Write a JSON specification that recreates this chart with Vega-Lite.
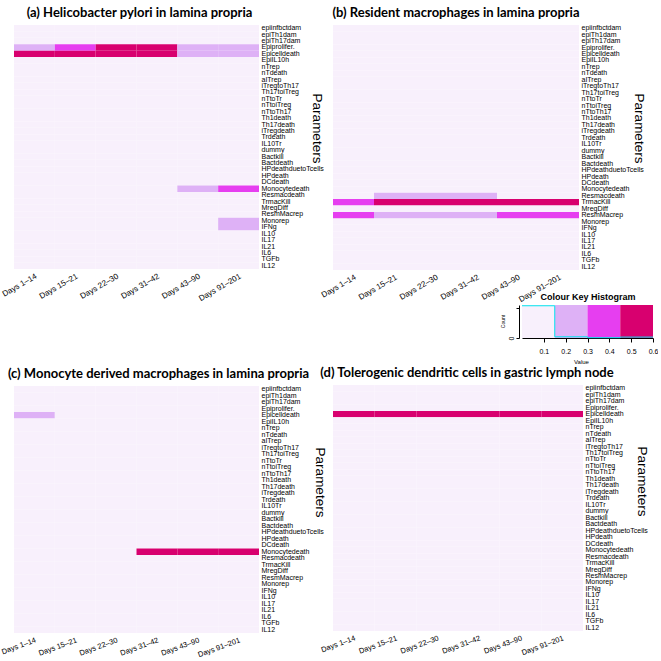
{
"$schema": "https://vega.github.io/schema/vega-lite/v6.json",
"padding": {"left": 0, "top": 6, "right": 0, "bottom": 0},
"config": {"view": {"stroke": null}, "title": {"font": "Lato", "fontWeight": "bold", "fontSize": 13, "color": "#000", "frame": "group", "anchor": "middle", "offset": 4}},
"datasets": {
"days": [{"key":"d1","day":"Days 1–14"},{"key":"d2","day":"Days 15–21"},{"key":"d3","day":"Days 22–30"},{"key":"d4","day":"Days 31–42"},{"key":"d5","day":"Days 43–90"},{"key":"d6","day":"Days 91–201"}],
"keybins": [{"lo":0,"hi":0.15,"mid":0.075},{"lo":0.15,"hi":0.3,"mid":0.225},{"lo":0.3,"hi":0.45,"mid":0.375},{"lo":0.45,"hi":0.6,"mid":0.525}],
"hist": [{"x":0,"c":212},{"x":0.15,"c":8},{"x":0.3,"c":2},{"x":0.45,"c":6},{"x":0.6,"c":6}],
"cells": [
{"g":"a","p":"epiinfbctdam","d1":0,"d2":0,"d3":0,"d4":0,"d5":0,"d6":0},
{"g":"a","p":"epiTh1dam","d1":0,"d2":0,"d3":0,"d4":0,"d5":0,"d6":0},
{"g":"a","p":"epiTh17dam","d1":0,"d2":0,"d3":0,"d4":0,"d5":0,"d6":0},
{"g":"a","p":"Epiprolifer.","d1":0.2,"d2":0.35,"d3":0.55,"d4":0.55,"d5":0.2,"d6":0.2},
{"g":"a","p":"Epicelldeath","d1":0.55,"d2":0.55,"d3":0.55,"d4":0.55,"d5":0.2,"d6":0.2},
{"g":"a","p":"EpiIL10h","d1":0,"d2":0,"d3":0,"d4":0,"d5":0,"d6":0},
{"g":"a","p":"nTrep","d1":0,"d2":0,"d3":0,"d4":0,"d5":0,"d6":0},
{"g":"a","p":"nTdeath","d1":0,"d2":0,"d3":0,"d4":0,"d5":0,"d6":0},
{"g":"a","p":"aITrep","d1":0,"d2":0,"d3":0,"d4":0,"d5":0,"d6":0},
{"g":"a","p":"iTregtoTh17","d1":0,"d2":0,"d3":0,"d4":0,"d5":0,"d6":0},
{"g":"a","p":"Th17toiTreg","d1":0,"d2":0,"d3":0,"d4":0,"d5":0,"d6":0},
{"g":"a","p":"nTtoTr","d1":0,"d2":0,"d3":0,"d4":0,"d5":0,"d6":0},
{"g":"a","p":"nTtoiTreg","d1":0,"d2":0,"d3":0,"d4":0,"d5":0,"d6":0},
{"g":"a","p":"nTtoTh17","d1":0,"d2":0,"d3":0,"d4":0,"d5":0,"d6":0},
{"g":"a","p":"Th1death","d1":0,"d2":0,"d3":0,"d4":0,"d5":0,"d6":0},
{"g":"a","p":"Th17death","d1":0,"d2":0,"d3":0,"d4":0,"d5":0,"d6":0},
{"g":"a","p":"iTregdeath","d1":0,"d2":0,"d3":0,"d4":0,"d5":0,"d6":0},
{"g":"a","p":"Trdeath","d1":0,"d2":0,"d3":0,"d4":0,"d5":0,"d6":0},
{"g":"a","p":"IL10Tr","d1":0,"d2":0,"d3":0,"d4":0,"d5":0,"d6":0},
{"g":"a","p":"dummy","d1":0,"d2":0,"d3":0,"d4":0,"d5":0,"d6":0},
{"g":"a","p":"Bactkill","d1":0,"d2":0,"d3":0,"d4":0,"d5":0,"d6":0},
{"g":"a","p":"Bactdeath","d1":0,"d2":0,"d3":0,"d4":0,"d5":0,"d6":0},
{"g":"a","p":"HPdeathduetoTcells","d1":0,"d2":0,"d3":0,"d4":0,"d5":0,"d6":0},
{"g":"a","p":"HPdeath","d1":0,"d2":0,"d3":0,"d4":0,"d5":0,"d6":0},
{"g":"a","p":"DCdeath","d1":0,"d2":0,"d3":0,"d4":0,"d5":0,"d6":0},
{"g":"a","p":"Monocytedeath","d1":0,"d2":0,"d3":0,"d4":0,"d5":0.2,"d6":0.35},
{"g":"a","p":"Resmacdeath","d1":0,"d2":0,"d3":0,"d4":0,"d5":0,"d6":0},
{"g":"a","p":"TrmacKill","d1":0,"d2":0,"d3":0,"d4":0,"d5":0,"d6":0},
{"g":"a","p":"MregDiff","d1":0,"d2":0,"d3":0,"d4":0,"d5":0,"d6":0},
{"g":"a","p":"ResmMacrep","d1":0,"d2":0,"d3":0,"d4":0,"d5":0,"d6":0},
{"g":"a","p":"Monorep","d1":0,"d2":0,"d3":0,"d4":0,"d5":0,"d6":0.2},
{"g":"a","p":"IFNg","d1":0,"d2":0,"d3":0,"d4":0,"d5":0,"d6":0.2},
{"g":"a","p":"IL10","d1":0,"d2":0,"d3":0,"d4":0,"d5":0,"d6":0},
{"g":"a","p":"IL17","d1":0,"d2":0,"d3":0,"d4":0,"d5":0,"d6":0},
{"g":"a","p":"IL21","d1":0,"d2":0,"d3":0,"d4":0,"d5":0,"d6":0},
{"g":"a","p":"IL6","d1":0,"d2":0,"d3":0,"d4":0,"d5":0,"d6":0},
{"g":"a","p":"TGFb","d1":0,"d2":0,"d3":0,"d4":0,"d5":0,"d6":0},
{"g":"a","p":"IL12","d1":0,"d2":0,"d3":0,"d4":0,"d5":0,"d6":0},
{"g":"b","p":"epiinfbctdam","d1":0,"d2":0,"d3":0,"d4":0,"d5":0,"d6":0},
{"g":"b","p":"epiTh1dam","d1":0,"d2":0,"d3":0,"d4":0,"d5":0,"d6":0},
{"g":"b","p":"epiTh17dam","d1":0,"d2":0,"d3":0,"d4":0,"d5":0,"d6":0},
{"g":"b","p":"Epiprolifer.","d1":0,"d2":0,"d3":0,"d4":0,"d5":0,"d6":0},
{"g":"b","p":"Epicelldeath","d1":0,"d2":0,"d3":0,"d4":0,"d5":0,"d6":0},
{"g":"b","p":"EpiIL10h","d1":0,"d2":0,"d3":0,"d4":0,"d5":0,"d6":0},
{"g":"b","p":"nTrep","d1":0,"d2":0,"d3":0,"d4":0,"d5":0,"d6":0},
{"g":"b","p":"nTdeath","d1":0,"d2":0,"d3":0,"d4":0,"d5":0,"d6":0},
{"g":"b","p":"aITrep","d1":0,"d2":0,"d3":0,"d4":0,"d5":0,"d6":0},
{"g":"b","p":"iTregtoTh17","d1":0,"d2":0,"d3":0,"d4":0,"d5":0,"d6":0},
{"g":"b","p":"Th17toiTreg","d1":0,"d2":0,"d3":0,"d4":0,"d5":0,"d6":0},
{"g":"b","p":"nTtoTr","d1":0,"d2":0,"d3":0,"d4":0,"d5":0,"d6":0},
{"g":"b","p":"nTtoiTreg","d1":0,"d2":0,"d3":0,"d4":0,"d5":0,"d6":0},
{"g":"b","p":"nTtoTh17","d1":0,"d2":0,"d3":0,"d4":0,"d5":0,"d6":0},
{"g":"b","p":"Th1death","d1":0,"d2":0,"d3":0,"d4":0,"d5":0,"d6":0},
{"g":"b","p":"Th17death","d1":0,"d2":0,"d3":0,"d4":0,"d5":0,"d6":0},
{"g":"b","p":"iTregdeath","d1":0,"d2":0,"d3":0,"d4":0,"d5":0,"d6":0},
{"g":"b","p":"Trdeath","d1":0,"d2":0,"d3":0,"d4":0,"d5":0,"d6":0},
{"g":"b","p":"IL10Tr","d1":0,"d2":0,"d3":0,"d4":0,"d5":0,"d6":0},
{"g":"b","p":"dummy","d1":0,"d2":0,"d3":0,"d4":0,"d5":0,"d6":0},
{"g":"b","p":"Bactkill","d1":0,"d2":0,"d3":0,"d4":0,"d5":0,"d6":0},
{"g":"b","p":"Bactdeath","d1":0,"d2":0,"d3":0,"d4":0,"d5":0,"d6":0},
{"g":"b","p":"HPdeathduetoTcells","d1":0,"d2":0,"d3":0,"d4":0,"d5":0,"d6":0},
{"g":"b","p":"HPdeath","d1":0,"d2":0,"d3":0,"d4":0,"d5":0,"d6":0},
{"g":"b","p":"DCdeath","d1":0,"d2":0,"d3":0,"d4":0,"d5":0,"d6":0},
{"g":"b","p":"Monocytedeath","d1":0,"d2":0,"d3":0,"d4":0,"d5":0,"d6":0},
{"g":"b","p":"Resmacdeath","d1":0,"d2":0.2,"d3":0.2,"d4":0.2,"d5":0,"d6":0},
{"g":"b","p":"TrmacKill","d1":0.35,"d2":0.55,"d3":0.55,"d4":0.55,"d5":0.55,"d6":0.55},
{"g":"b","p":"MregDiff","d1":0,"d2":0,"d3":0,"d4":0,"d5":0,"d6":0},
{"g":"b","p":"ResmMacrep","d1":0.35,"d2":0.2,"d3":0.2,"d4":0.2,"d5":0.35,"d6":0.35},
{"g":"b","p":"Monorep","d1":0,"d2":0,"d3":0,"d4":0,"d5":0,"d6":0},
{"g":"b","p":"IFNg","d1":0,"d2":0,"d3":0,"d4":0,"d5":0,"d6":0},
{"g":"b","p":"IL10","d1":0,"d2":0,"d3":0,"d4":0,"d5":0,"d6":0},
{"g":"b","p":"IL17","d1":0,"d2":0,"d3":0,"d4":0,"d5":0,"d6":0},
{"g":"b","p":"IL21","d1":0,"d2":0,"d3":0,"d4":0,"d5":0,"d6":0},
{"g":"b","p":"IL6","d1":0,"d2":0,"d3":0,"d4":0,"d5":0,"d6":0},
{"g":"b","p":"TGFb","d1":0,"d2":0,"d3":0,"d4":0,"d5":0,"d6":0},
{"g":"b","p":"IL12","d1":0,"d2":0,"d3":0,"d4":0,"d5":0,"d6":0},
{"g":"c","p":"epiinfbctdam","d1":0,"d2":0,"d3":0,"d4":0,"d5":0,"d6":0},
{"g":"c","p":"epiTh1dam","d1":0,"d2":0,"d3":0,"d4":0,"d5":0,"d6":0},
{"g":"c","p":"epiTh17dam","d1":0,"d2":0,"d3":0,"d4":0,"d5":0,"d6":0},
{"g":"c","p":"Epiprolifer.","d1":0,"d2":0,"d3":0,"d4":0,"d5":0,"d6":0},
{"g":"c","p":"Epicelldeath","d1":0.2,"d2":0,"d3":0,"d4":0,"d5":0,"d6":0},
{"g":"c","p":"EpiIL10h","d1":0,"d2":0,"d3":0,"d4":0,"d5":0,"d6":0},
{"g":"c","p":"nTrep","d1":0,"d2":0,"d3":0,"d4":0,"d5":0,"d6":0},
{"g":"c","p":"nTdeath","d1":0,"d2":0,"d3":0,"d4":0,"d5":0,"d6":0},
{"g":"c","p":"aITrep","d1":0,"d2":0,"d3":0,"d4":0,"d5":0,"d6":0},
{"g":"c","p":"iTregtoTh17","d1":0,"d2":0,"d3":0,"d4":0,"d5":0,"d6":0},
{"g":"c","p":"Th17toiTreg","d1":0,"d2":0,"d3":0,"d4":0,"d5":0,"d6":0},
{"g":"c","p":"nTtoTr","d1":0,"d2":0,"d3":0,"d4":0,"d5":0,"d6":0},
{"g":"c","p":"nTtoiTreg","d1":0,"d2":0,"d3":0,"d4":0,"d5":0,"d6":0},
{"g":"c","p":"nTtoTh17","d1":0,"d2":0,"d3":0,"d4":0,"d5":0,"d6":0},
{"g":"c","p":"Th1death","d1":0,"d2":0,"d3":0,"d4":0,"d5":0,"d6":0},
{"g":"c","p":"Th17death","d1":0,"d2":0,"d3":0,"d4":0,"d5":0,"d6":0},
{"g":"c","p":"iTregdeath","d1":0,"d2":0,"d3":0,"d4":0,"d5":0,"d6":0},
{"g":"c","p":"Trdeath","d1":0,"d2":0,"d3":0,"d4":0,"d5":0,"d6":0},
{"g":"c","p":"IL10Tr","d1":0,"d2":0,"d3":0,"d4":0,"d5":0,"d6":0},
{"g":"c","p":"dummy","d1":0,"d2":0,"d3":0,"d4":0,"d5":0,"d6":0},
{"g":"c","p":"Bactkill","d1":0,"d2":0,"d3":0,"d4":0,"d5":0,"d6":0},
{"g":"c","p":"Bactdeath","d1":0,"d2":0,"d3":0,"d4":0,"d5":0,"d6":0},
{"g":"c","p":"HPdeathduetoTcells","d1":0,"d2":0,"d3":0,"d4":0,"d5":0,"d6":0},
{"g":"c","p":"HPdeath","d1":0,"d2":0,"d3":0,"d4":0,"d5":0,"d6":0},
{"g":"c","p":"DCdeath","d1":0,"d2":0,"d3":0,"d4":0,"d5":0,"d6":0},
{"g":"c","p":"Monocytedeath","d1":0,"d2":0,"d3":0,"d4":0.55,"d5":0.55,"d6":0.55},
{"g":"c","p":"Resmacdeath","d1":0,"d2":0,"d3":0,"d4":0,"d5":0,"d6":0},
{"g":"c","p":"TrmacKill","d1":0,"d2":0,"d3":0,"d4":0,"d5":0,"d6":0},
{"g":"c","p":"MregDiff","d1":0,"d2":0,"d3":0,"d4":0,"d5":0,"d6":0},
{"g":"c","p":"ResmMacrep","d1":0,"d2":0,"d3":0,"d4":0,"d5":0,"d6":0},
{"g":"c","p":"Monorep","d1":0,"d2":0,"d3":0,"d4":0,"d5":0,"d6":0},
{"g":"c","p":"IFNg","d1":0,"d2":0,"d3":0,"d4":0,"d5":0,"d6":0},
{"g":"c","p":"IL10","d1":0,"d2":0,"d3":0,"d4":0,"d5":0,"d6":0},
{"g":"c","p":"IL17","d1":0,"d2":0,"d3":0,"d4":0,"d5":0,"d6":0},
{"g":"c","p":"IL21","d1":0,"d2":0,"d3":0,"d4":0,"d5":0,"d6":0},
{"g":"c","p":"IL6","d1":0,"d2":0,"d3":0,"d4":0,"d5":0,"d6":0},
{"g":"c","p":"TGFb","d1":0,"d2":0,"d3":0,"d4":0,"d5":0,"d6":0},
{"g":"c","p":"IL12","d1":0,"d2":0,"d3":0,"d4":0,"d5":0,"d6":0},
{"g":"d","p":"epiinfbctdam","d1":0,"d2":0,"d3":0,"d4":0,"d5":0,"d6":0},
{"g":"d","p":"epiTh1dam","d1":0,"d2":0,"d3":0,"d4":0,"d5":0,"d6":0},
{"g":"d","p":"epiTh17dam","d1":0,"d2":0,"d3":0,"d4":0,"d5":0,"d6":0},
{"g":"d","p":"Epiprolifer.","d1":0,"d2":0,"d3":0,"d4":0,"d5":0,"d6":0},
{"g":"d","p":"Epicelldeath","d1":0.55,"d2":0.55,"d3":0.55,"d4":0.55,"d5":0.55,"d6":0.55},
{"g":"d","p":"EpiIL10h","d1":0,"d2":0,"d3":0,"d4":0,"d5":0,"d6":0},
{"g":"d","p":"nTrep","d1":0,"d2":0,"d3":0,"d4":0,"d5":0,"d6":0},
{"g":"d","p":"nTdeath","d1":0,"d2":0,"d3":0,"d4":0,"d5":0,"d6":0},
{"g":"d","p":"aITrep","d1":0,"d2":0,"d3":0,"d4":0,"d5":0,"d6":0},
{"g":"d","p":"iTregtoTh17","d1":0,"d2":0,"d3":0,"d4":0,"d5":0,"d6":0},
{"g":"d","p":"Th17toiTreg","d1":0,"d2":0,"d3":0,"d4":0,"d5":0,"d6":0},
{"g":"d","p":"nTtoTr","d1":0,"d2":0,"d3":0,"d4":0,"d5":0,"d6":0},
{"g":"d","p":"nTtoiTreg","d1":0,"d2":0,"d3":0,"d4":0,"d5":0,"d6":0},
{"g":"d","p":"nTtoTh17","d1":0,"d2":0,"d3":0,"d4":0,"d5":0,"d6":0},
{"g":"d","p":"Th1death","d1":0,"d2":0,"d3":0,"d4":0,"d5":0,"d6":0},
{"g":"d","p":"Th17death","d1":0,"d2":0,"d3":0,"d4":0,"d5":0,"d6":0},
{"g":"d","p":"iTregdeath","d1":0,"d2":0,"d3":0,"d4":0,"d5":0,"d6":0},
{"g":"d","p":"Trdeath","d1":0,"d2":0,"d3":0,"d4":0,"d5":0,"d6":0},
{"g":"d","p":"IL10Tr","d1":0,"d2":0,"d3":0,"d4":0,"d5":0,"d6":0},
{"g":"d","p":"dummy","d1":0,"d2":0,"d3":0,"d4":0,"d5":0,"d6":0},
{"g":"d","p":"Bactkill","d1":0,"d2":0,"d3":0,"d4":0,"d5":0,"d6":0},
{"g":"d","p":"Bactdeath","d1":0,"d2":0,"d3":0,"d4":0,"d5":0,"d6":0},
{"g":"d","p":"HPdeathduetoTcells","d1":0,"d2":0,"d3":0,"d4":0,"d5":0,"d6":0},
{"g":"d","p":"HPdeath","d1":0,"d2":0,"d3":0,"d4":0,"d5":0,"d6":0},
{"g":"d","p":"DCdeath","d1":0,"d2":0,"d3":0,"d4":0,"d5":0,"d6":0},
{"g":"d","p":"Monocytedeath","d1":0,"d2":0,"d3":0,"d4":0,"d5":0,"d6":0},
{"g":"d","p":"Resmacdeath","d1":0,"d2":0,"d3":0,"d4":0,"d5":0,"d6":0},
{"g":"d","p":"TrmacKill","d1":0,"d2":0,"d3":0,"d4":0,"d5":0,"d6":0},
{"g":"d","p":"MregDiff","d1":0,"d2":0,"d3":0,"d4":0,"d5":0,"d6":0},
{"g":"d","p":"ResmMacrep","d1":0,"d2":0,"d3":0,"d4":0,"d5":0,"d6":0},
{"g":"d","p":"Monorep","d1":0,"d2":0,"d3":0,"d4":0,"d5":0,"d6":0},
{"g":"d","p":"IFNg","d1":0,"d2":0,"d3":0,"d4":0,"d5":0,"d6":0},
{"g":"d","p":"IL10","d1":0,"d2":0,"d3":0,"d4":0,"d5":0,"d6":0},
{"g":"d","p":"IL17","d1":0,"d2":0,"d3":0,"d4":0,"d5":0,"d6":0},
{"g":"d","p":"IL21","d1":0,"d2":0,"d3":0,"d4":0,"d5":0,"d6":0},
{"g":"d","p":"IL6","d1":0,"d2":0,"d3":0,"d4":0,"d5":0,"d6":0},
{"g":"d","p":"TGFb","d1":0,"d2":0,"d3":0,"d4":0,"d5":0,"d6":0},
{"g":"d","p":"IL12","d1":0,"d2":0,"d3":0,"d4":0,"d5":0,"d6":0}
]
},
"spacing": -7,
"hconcat": [
{"bounds": "flush", "spacing": 117, "vconcat": [
  {"width": 245, "height": 244,
   "title": {"text": "(a) Helicobacter pylori in lamina propria", "dx": 3},
   "data": {"name": "cells"},
   "transform": [{"filter": "datum.g == 'a'"}, {"fold": ["d1","d2","d3","d4","d5","d6"], "as": ["key","v"]}, {"lookup": "key", "from": {"data": {"name": "days"}, "key": "key", "fields": ["day"]}}],
   "mark": "rect",
   "encoding": {
    "x": {"field": "day", "type": "nominal", "sort": ["Days 1–14","Days 15–21","Days 22–30","Days 31–42","Days 43–90","Days 91–201"], "scale": {"paddingInner": 0, "paddingOuter": 0}, "axis": {"title": null, "labelAngle": -30, "labelAlign": "right", "labelBaseline": "top", "labelPadding": 3, "labelFont": "Liberation Sans", "labelFontSize": 8, "labelColor": "#000", "ticks": false, "domain": false}},
    "y": {"field": "p", "type": "nominal", "sort": ["epiinfbctdam","epiTh1dam","epiTh17dam","Epiprolifer.","Epicelldeath","EpiIL10h","nTrep","nTdeath","aITrep","iTregtoTh17","Th17toiTreg","nTtoTr","nTtoiTreg","nTtoTh17","Th1death","Th17death","iTregdeath","Trdeath","IL10Tr","dummy","Bactkill","Bactdeath","HPdeathduetoTcells","HPdeath","DCdeath","Monocytedeath","Resmacdeath","TrmacKill","MregDiff","ResmMacrep","Monorep","IFNg","IL10","IL17","IL21","IL6","TGFb","IL12"], "scale": {"paddingInner": 0, "paddingOuter": 0}, "axis": {"orient": "right", "title": "Parameters", "titleFont": "Liberation Sans", "titleFontSize": 13.5, "titleFontWeight": "normal", "titleColor": "#000", "titleAngle": 90, "titleX": 57, "titleY": 103, "titleAlign": "center", "titleBaseline": "middle", "labelFont": "Liberation Sans", "labelFontSize": 7, "labelColor": "#000", "labelPadding": 2, "ticks": false, "domain": false, "labelLimit": 0}},
    "color": {"field": "v", "type": "quantitative", "scale": {"type": "threshold", "domain": [0.15, 0.3, 0.45], "range": ["#F8F0FC", "#DEB1F6", "#E63EF0", "#D8006F"]}, "legend": null}
   }
  },
  {"width": 245, "height": 247,
   "title": {"text": "(c) Monocyte derived macrophages in lamina propria", "dx": 22},
   "data": {"name": "cells"},
   "transform": [{"filter": "datum.g == 'c'"}, {"fold": ["d1","d2","d3","d4","d5","d6"], "as": ["key","v"]}, {"lookup": "key", "from": {"data": {"name": "days"}, "key": "key", "fields": ["day"]}}],
   "mark": "rect",
   "encoding": {
    "x": {"field": "day", "type": "nominal", "sort": ["Days 1–14","Days 15–21","Days 22–30","Days 31–42","Days 43–90","Days 91–201"], "scale": {"paddingInner": 0, "paddingOuter": 0}, "axis": {"title": null, "labelAngle": -20, "labelAlign": "right", "labelBaseline": "top", "labelPadding": 3, "labelFont": "Liberation Sans", "labelFontSize": 7.5, "labelColor": "#000", "ticks": false, "domain": false}},
    "y": {"field": "p", "type": "nominal", "sort": ["epiinfbctdam","epiTh1dam","epiTh17dam","Epiprolifer.","Epicelldeath","EpiIL10h","nTrep","nTdeath","aITrep","iTregtoTh17","Th17toiTreg","nTtoTr","nTtoiTreg","nTtoTh17","Th1death","Th17death","iTregdeath","Trdeath","IL10Tr","dummy","Bactkill","Bactdeath","HPdeathduetoTcells","HPdeath","DCdeath","Monocytedeath","Resmacdeath","TrmacKill","MregDiff","ResmMacrep","Monorep","IFNg","IL10","IL17","IL21","IL6","TGFb","IL12"], "scale": {"paddingInner": 0, "paddingOuter": 0}, "axis": {"orient": "right", "title": "Parameters", "titleFont": "Liberation Sans", "titleFontSize": 13.5, "titleFontWeight": "normal", "titleColor": "#000", "titleAngle": 90, "titleX": 60, "titleY": 96, "titleAlign": "center", "titleBaseline": "middle", "labelFont": "Liberation Sans", "labelFontSize": 7, "labelColor": "#000", "labelPadding": 2, "ticks": false, "domain": false, "labelLimit": 0}},
    "color": {"field": "v", "type": "quantitative", "scale": {"type": "threshold", "domain": [0.15, 0.3, 0.45], "range": ["#F8F0FC", "#DEB1F6", "#E63EF0", "#D8006F"]}, "legend": null}
   }
  }
]},
{"bounds": "flush", "spacing": 35, "vconcat": [
  {"width": 246, "height": 245,
   "title": {"text": "(b) Resident macrophages in lamina propria", "dx": 0},
   "data": {"name": "cells"},
   "transform": [{"filter": "datum.g == 'b'"}, {"fold": ["d1","d2","d3","d4","d5","d6"], "as": ["key","v"]}, {"lookup": "key", "from": {"data": {"name": "days"}, "key": "key", "fields": ["day"]}}],
   "mark": "rect",
   "encoding": {
    "x": {"field": "day", "type": "nominal", "sort": ["Days 1–14","Days 15–21","Days 22–30","Days 31–42","Days 43–90","Days 91–201"], "scale": {"paddingInner": 0, "paddingOuter": 0}, "axis": {"title": null, "labelAngle": -30, "labelAlign": "right", "labelBaseline": "top", "labelPadding": 3, "labelFont": "Liberation Sans", "labelFontSize": 8, "labelColor": "#000", "ticks": false, "domain": false}},
    "y": {"field": "p", "type": "nominal", "sort": ["epiinfbctdam","epiTh1dam","epiTh17dam","Epiprolifer.","Epicelldeath","EpiIL10h","nTrep","nTdeath","aITrep","iTregtoTh17","Th17toiTreg","nTtoTr","nTtoiTreg","nTtoTh17","Th1death","Th17death","iTregdeath","Trdeath","IL10Tr","dummy","Bactkill","Bactdeath","HPdeathduetoTcells","HPdeath","DCdeath","Monocytedeath","Resmacdeath","TrmacKill","MregDiff","ResmMacrep","Monorep","IFNg","IL10","IL17","IL21","IL6","TGFb","IL12"], "scale": {"paddingInner": 0, "paddingOuter": 0}, "axis": {"orient": "right", "title": "Parameters", "titleFont": "Liberation Sans", "titleFontSize": 13.5, "titleFontWeight": "normal", "titleColor": "#000", "titleAngle": 90, "titleX": 59, "titleY": 103, "titleAlign": "center", "titleBaseline": "middle", "labelFont": "Liberation Sans", "labelFontSize": 7, "labelColor": "#000", "labelPadding": 2, "ticks": false, "domain": false, "labelLimit": 0}},
    "color": {"field": "v", "type": "quantitative", "scale": {"type": "threshold", "domain": [0.15, 0.3, 0.45], "range": ["#F8F0FC", "#DEB1F6", "#E63EF0", "#D8006F"]}, "legend": null}
   }
  },
  {"width": 322, "height": 45,
   "title": {"text": "Colour Key Histogram", "font": "Liberation Sans", "fontSize": 9, "fontWeight": "bold", "offset": 2, "frame": "group", "anchor": "middle", "dx": 94},
   "layer": [
    {"data": {"name": "keybins"}, "mark": "rect",
     "encoding": {
      "x": {"field": "lo", "type": "quantitative", "scale": {"domain": [0, 0.6], "range": [189, 320], "nice": false, "zero": false}, "axis": {"title": "Value", "titleFont": "Liberation Sans", "titleFontSize": 6, "titleFontWeight": "normal", "titleColor": "#000", "titlePadding": 4, "titleAnchor": "start", "titleAlign": "center", "titleX": 248, "offset": -12, "values": [0.1,0.2,0.3,0.4,0.5,0.6], "format": ".1f", "labelFont": "Liberation Sans", "labelFontSize": 7, "labelColor": "#000", "labelFlush": false, "labelPadding": 5, "tickSize": 4, "tickColor": "#000", "domainColor": "#000", "grid": false}},
      "x2": {"field": "hi"},
      "y": {"datum": 0, "type": "quantitative"},
      "y2": {"datum": 217},
      "color": {"field": "mid", "type": "quantitative", "scale": {"type": "threshold", "domain": [0.15, 0.3, 0.45], "range": ["#F8F0FC", "#DEB1F6", "#E63EF0", "#D8006F"]}, "legend": null}
     }
    },
    {"data": {"name": "hist"}, "mark": {"type": "line", "interpolate": "step-after", "color": "#00E5EE", "strokeWidth": 1},
     "encoding": {
      "x": {"field": "x", "type": "quantitative", "scale": {"domain": [0, 0.6], "range": [189, 320], "nice": false, "zero": false}},
      "y": {"field": "c", "type": "quantitative", "scale": {"domain": [0, 217], "range": [33, 0], "nice": false}, "axis": {"title": "Count", "titleFont": "Liberation Sans", "titleFontSize": 5, "titleFontWeight": "normal", "titleColor": "#000", "titlePadding": 2, "titleY": 16, "offset": -186, "values": [0,50,100,150,200], "labelExpr": "datum.value == 0 || datum.value == 150 ? datum.label : ''", "labelAngle": -90, "labelAlign": "center", "labelBaseline": "bottom", "labelFont": "Liberation Sans", "labelFontSize": 7, "labelColor": "#000", "tickSize": 3, "tickColor": "#000", "domainColor": "#000", "grid": false}}
     }
    }
   ]
  },
  {"width": 250, "height": 246,
   "title": {"text": "(d) Tolerogenic dendritic cells in gastric lymph node", "dx": 9},
   "data": {"name": "cells"},
   "transform": [{"filter": "datum.g == 'd'"}, {"fold": ["d1","d2","d3","d4","d5","d6"], "as": ["key","v"]}, {"lookup": "key", "from": {"data": {"name": "days"}, "key": "key", "fields": ["day"]}}],
   "mark": "rect",
   "encoding": {
    "x": {"field": "day", "type": "nominal", "sort": ["Days 1–14","Days 15–21","Days 22–30","Days 31–42","Days 43–90","Days 91–201"], "scale": {"paddingInner": 0, "paddingOuter": 0}, "axis": {"title": null, "labelAngle": -20, "labelAlign": "right", "labelBaseline": "top", "labelPadding": 3, "labelFont": "Liberation Sans", "labelFontSize": 7.5, "labelColor": "#000", "ticks": false, "domain": false}},
    "y": {"field": "p", "type": "nominal", "sort": ["epiinfbctdam","epiTh1dam","epiTh17dam","Epiprolifer.","Epicelldeath","EpiIL10h","nTrep","nTdeath","aITrep","iTregtoTh17","Th17toiTreg","nTtoTr","nTtoiTreg","nTtoTh17","Th1death","Th17death","iTregdeath","Trdeath","IL10Tr","dummy","Bactkill","Bactdeath","HPdeathduetoTcells","HPdeath","DCdeath","Monocytedeath","Resmacdeath","TrmacKill","MregDiff","ResmMacrep","Monorep","IFNg","IL10","IL17","IL21","IL6","TGFb","IL12"], "scale": {"paddingInner": 0, "paddingOuter": 0}, "axis": {"orient": "right", "title": "Parameters", "titleFont": "Liberation Sans", "titleFontSize": 13.5, "titleFontWeight": "normal", "titleColor": "#000", "titleAngle": 90, "titleX": 58, "titleY": 96, "titleAlign": "center", "titleBaseline": "middle", "labelFont": "Liberation Sans", "labelFontSize": 7, "labelColor": "#000", "labelPadding": 2, "ticks": false, "domain": false, "labelLimit": 0}},
    "color": {"field": "v", "type": "quantitative", "scale": {"type": "threshold", "domain": [0.15, 0.3, 0.45], "range": ["#F8F0FC", "#DEB1F6", "#E63EF0", "#D8006F"]}, "legend": null}
   }
  }
]}
]
}
